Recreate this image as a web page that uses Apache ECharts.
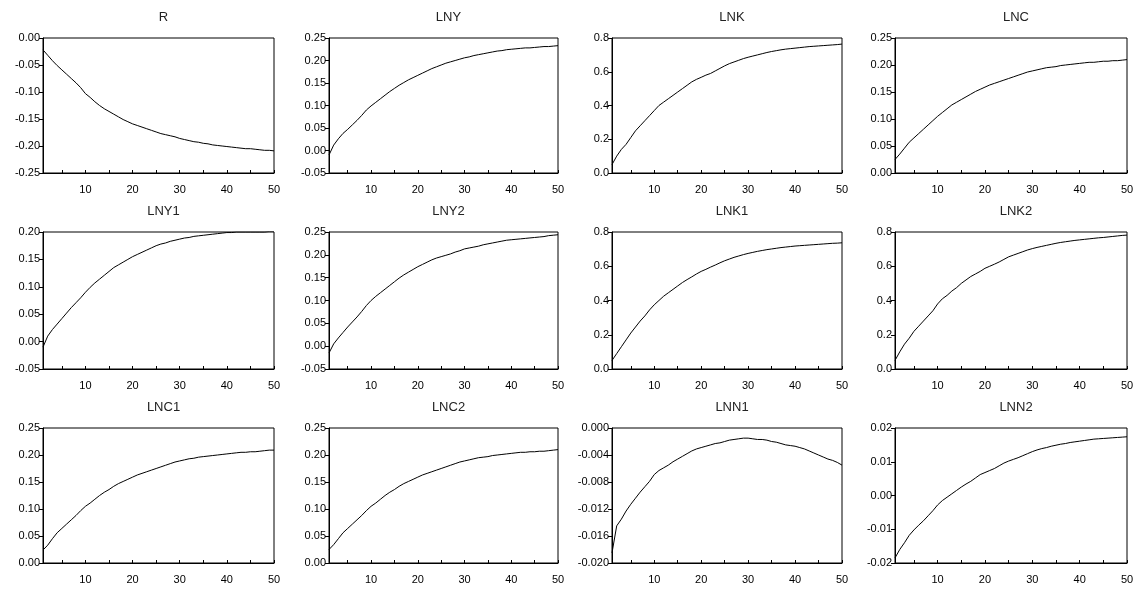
<!DOCTYPE html>
<html style="height: 100%">
<head>
    <meta charset="utf-8">
</head>
<body style="height: 100%; margin: 0; background: #fff">
<div id="container" style="width: 1138px; height: 590px"></div>

<script type="text/javascript" src="https://cdn.jsdelivr.net/npm/echarts@6/dist/echarts.min.js"></script>
<script type="text/javascript">

    // periods 1..50 on the horizontal axis
    var periods = [];
    for (var p = 1; p <= 50; p++) periods.push(String(p));

    var R = [-0.022, -0.032, -0.042, -0.051, -0.059, -0.067, -0.075, -0.083, -0.092, -0.103,
        -0.110, -0.118, -0.125, -0.131, -0.136, -0.141, -0.146, -0.151, -0.155, -0.159,
        -0.162, -0.165, -0.168, -0.171, -0.174, -0.177, -0.179, -0.181, -0.183, -0.186,
        -0.188, -0.190, -0.192, -0.193, -0.195, -0.196, -0.198, -0.199, -0.200, -0.201,
        -0.202, -0.203, -0.204, -0.205, -0.205, -0.206, -0.207, -0.208, -0.208, -0.209];

    var LNY = [-0.010, 0.012, 0.026, 0.038, 0.047, 0.057, 0.067, 0.078, 0.090, 0.099,
        0.107, 0.115, 0.123, 0.131, 0.138, 0.145, 0.151, 0.157, 0.162, 0.167,
        0.172, 0.177, 0.182, 0.186, 0.190, 0.194, 0.197, 0.200, 0.203, 0.206,
        0.208, 0.211, 0.213, 0.215, 0.217, 0.219, 0.221, 0.222, 0.224, 0.225,
        0.226, 0.227, 0.228, 0.228, 0.229, 0.230, 0.231, 0.231, 0.232, 0.233];

    var LNK = [0.05, 0.10, 0.14, 0.17, 0.21, 0.25, 0.28, 0.31, 0.34, 0.37,
        0.40, 0.42, 0.44, 0.46, 0.48, 0.50, 0.52, 0.54, 0.555, 0.567,
        0.58, 0.59, 0.605, 0.62, 0.635, 0.648, 0.658, 0.668, 0.678, 0.686,
        0.693, 0.70, 0.707, 0.714, 0.72, 0.725, 0.73, 0.734, 0.737, 0.74,
        0.743, 0.746, 0.749, 0.751, 0.753, 0.755, 0.757, 0.759, 0.761, 0.764];

    var LNC = [0.025, 0.035, 0.046, 0.057, 0.065, 0.073, 0.081, 0.089, 0.097, 0.105,
        0.112, 0.119, 0.126, 0.131, 0.136, 0.141, 0.146, 0.151, 0.155, 0.159,
        0.163, 0.166, 0.169, 0.172, 0.175, 0.178, 0.181, 0.184, 0.187, 0.189,
        0.191, 0.193, 0.195, 0.196, 0.197, 0.199, 0.200, 0.201, 0.202, 0.203,
        0.204, 0.205, 0.205, 0.206, 0.207, 0.207, 0.208, 0.208, 0.209, 0.210];

    var LNY1 = [-0.010, 0.010, 0.022, 0.032, 0.042, 0.052, 0.062, 0.071, 0.080, 0.090,
        0.099, 0.107, 0.114, 0.121, 0.128, 0.135, 0.140, 0.145, 0.150, 0.155,
        0.159, 0.163, 0.167, 0.171, 0.175, 0.178, 0.180, 0.183, 0.185, 0.187,
        0.189, 0.190, 0.192, 0.193, 0.194, 0.195, 0.196, 0.197, 0.198, 0.199,
        0.199, 0.200, 0.200, 0.200, 0.200, 0.200, 0.200, 0.200, 0.201, 0.201];

    var LNY2 = [-0.015, 0.005, 0.018, 0.030, 0.042, 0.053, 0.064, 0.076, 0.089, 0.100,
        0.109, 0.117, 0.125, 0.133, 0.141, 0.149, 0.156, 0.162, 0.168, 0.174,
        0.179, 0.184, 0.189, 0.193, 0.196, 0.199, 0.202, 0.206, 0.209, 0.213,
        0.215, 0.217, 0.219, 0.222, 0.224, 0.226, 0.228, 0.230, 0.232, 0.233,
        0.234, 0.235, 0.236, 0.237, 0.238, 0.239, 0.240, 0.242, 0.243, 0.244];

    var LNK1 = [0.05, 0.09, 0.13, 0.17, 0.21, 0.245, 0.28, 0.31, 0.345, 0.375,
        0.40, 0.425, 0.445, 0.465, 0.485, 0.505, 0.522, 0.538, 0.555, 0.57,
        0.582, 0.595, 0.607, 0.62, 0.632, 0.642, 0.652, 0.66, 0.668, 0.675,
        0.681, 0.687, 0.692, 0.697, 0.701, 0.705, 0.709, 0.712, 0.715, 0.718,
        0.72, 0.722, 0.724, 0.726, 0.728, 0.73, 0.732, 0.734, 0.735, 0.737];

    var LNK2 = [0.05, 0.10, 0.145, 0.18, 0.22, 0.25, 0.28, 0.31, 0.34, 0.38,
        0.41, 0.43, 0.455, 0.475, 0.50, 0.52, 0.54, 0.555, 0.57, 0.588,
        0.60, 0.612, 0.625, 0.64, 0.655, 0.665, 0.675, 0.685, 0.695, 0.703,
        0.71, 0.716, 0.722, 0.728, 0.734, 0.739, 0.743, 0.747, 0.751, 0.754,
        0.757, 0.76, 0.763, 0.766, 0.768, 0.771, 0.774, 0.777, 0.78, 0.782];

    var LNC1 = [0.024, 0.033, 0.045, 0.056, 0.064, 0.072, 0.080, 0.088, 0.097, 0.105,
        0.111, 0.118, 0.125, 0.131, 0.136, 0.142, 0.147, 0.151, 0.155, 0.159,
        0.163, 0.166, 0.169, 0.172, 0.175, 0.178, 0.181, 0.184, 0.187, 0.189,
        0.191, 0.193, 0.194, 0.196, 0.197, 0.198, 0.199, 0.200, 0.201, 0.202,
        0.203, 0.204, 0.205, 0.205, 0.206, 0.206, 0.207, 0.208, 0.209, 0.209];

    var LNC2 = [0.025, 0.034, 0.045, 0.056, 0.064, 0.072, 0.080, 0.088, 0.097, 0.105,
        0.111, 0.118, 0.125, 0.131, 0.136, 0.142, 0.147, 0.151, 0.155, 0.159,
        0.163, 0.166, 0.169, 0.172, 0.175, 0.178, 0.181, 0.184, 0.187, 0.189,
        0.191, 0.193, 0.195, 0.196, 0.197, 0.199, 0.200, 0.201, 0.202, 0.203,
        0.204, 0.205, 0.205, 0.206, 0.206, 0.207, 0.207, 0.208, 0.209, 0.210];

    var LNN1 = [-0.0185, -0.0145, -0.0135, -0.0123, -0.0113, -0.0104, -0.0095, -0.0087, -0.0079, -0.0069,
        -0.0063, -0.0059, -0.0055, -0.0050, -0.0046, -0.0042, -0.0038, -0.0034, -0.0031, -0.0029,
        -0.0027, -0.0025, -0.0023, -0.0022, -0.0020, -0.0018, -0.0017, -0.0016, -0.0015, -0.0015,
        -0.0016, -0.0017, -0.0017, -0.0018, -0.0020, -0.0021, -0.0023, -0.0025, -0.0026, -0.0027,
        -0.0029, -0.0031, -0.0034, -0.0037, -0.0040, -0.0043, -0.0046, -0.0048, -0.0051, -0.0055];

    var LNN2 = [-0.0185, -0.0160, -0.0140, -0.0118, -0.0102, -0.0088, -0.0075, -0.0060, -0.0045, -0.0028,
        -0.0015, -0.0005, 0.0005, 0.0015, 0.0025, 0.0034, 0.0042, 0.0052, 0.0062, 0.0068,
        0.0074, 0.0080, 0.0088, 0.0096, 0.0102, 0.0107, 0.0112, 0.0118, 0.0124, 0.0130,
        0.0135, 0.0139, 0.0142, 0.0146, 0.0149, 0.0152, 0.0154, 0.0157, 0.0159, 0.0161,
        0.0163, 0.0165, 0.0167, 0.0168, 0.0169, 0.0170, 0.0171, 0.0172, 0.0173, 0.0174];

    // name, values, y min, y max, y interval, decimals
    var panels = [
        ['R', R, -0.25, 0, 0.05, 2],
        ['LNY', LNY, -0.05, 0.25, 0.05, 2],
        ['LNK', LNK, 0, 0.8, 0.2, 1],
        ['LNC', LNC, 0, 0.25, 0.05, 2],
        ['LNY1', LNY1, -0.05, 0.20, 0.05, 2],
        ['LNY2', LNY2, -0.05, 0.25, 0.05, 2],
        ['LNK1', LNK1, 0, 0.8, 0.2, 1],
        ['LNK2', LNK2, 0, 0.8, 0.2, 1],
        ['LNC1', LNC1, 0, 0.25, 0.05, 2],
        ['LNC2', LNC2, 0, 0.25, 0.05, 2],
        ['LNN1', LNN1, -0.020, 0, 0.004, 3],
        ['LNN2', LNN2, -0.02, 0.02, 0.01, 2]
    ];

    // layout of the 4x3 grid of plots
    var colLeft = [43, 329, 612, 895];
    var colWidth = [231, 229, 230, 232];
    var rowTop = [38, 232, 428];
    var rowHeight = [135, 137, 135];

    var font = 'Arial, "Liberation Sans", sans-serif';
    var option = {
        backgroundColor: '#fff',
        animation: false,
        title: [], grid: [], xAxis: [], yAxis: [], series: []
    };

    panels.forEach(function (pn, i) {
        var c = i % 4, r = Math.floor(i / 4);
        var dec = pn[5];
        option.title.push({
            text: pn[0],
            left: colLeft[c] + colWidth[c] / 2,
            top: rowTop[r] - 32,
            textAlign: 'center',
            textStyle: {fontFamily: font, fontSize: 13, fontWeight: 'normal', color: '#222'}
        });
        option.grid.push({
            left: colLeft[c], top: rowTop[r], width: colWidth[c], height: rowHeight[r],
            show: true, borderColor: '#000', borderWidth: 1, backgroundColor: '#fff'
        });
        option.xAxis.push({
            type: 'category', gridIndex: i, data: periods, boundaryGap: false,
            axisLine: {onZero: false, lineStyle: {color: '#000', width: 1}},
            axisTick: {
                inside: true, length: 3, lineStyle: {color: '#000'},
                interval: function (idx, v) { return Number(v) % 5 === 0; }
            },
            axisLabel: {
                color: '#000', fontFamily: font, fontSize: 11, margin: 11,
                interval: function (idx, v) { return Number(v) % 10 === 0; }
            },
            splitLine: {show: false}
        });
        option.yAxis.push({
            type: 'value', gridIndex: i, min: pn[2], max: pn[3], interval: pn[4],
            axisLine: {show: true, lineStyle: {color: '#000', width: 1}},
            axisTick: {show: true, length: 4, lineStyle: {color: '#000'}},
            axisLabel: {
                color: '#000', fontFamily: font, fontSize: 11, margin: 3,
                formatter: function (v) {
                    if (Math.abs(v) < 1e-9) v = 0;
                    return v.toFixed(dec);
                }
            },
            splitLine: {show: false}
        });
        option.series.push({
            type: 'line', xAxisIndex: i, yAxisIndex: i, data: pn[1],
            symbol: 'none', smooth: false,
            lineStyle: {color: '#000', width: 1}
        });
    });

    var myChart = echarts.init(document.getElementById('container'));
    myChart.setOption(option);

</script>
</body>
</html>
